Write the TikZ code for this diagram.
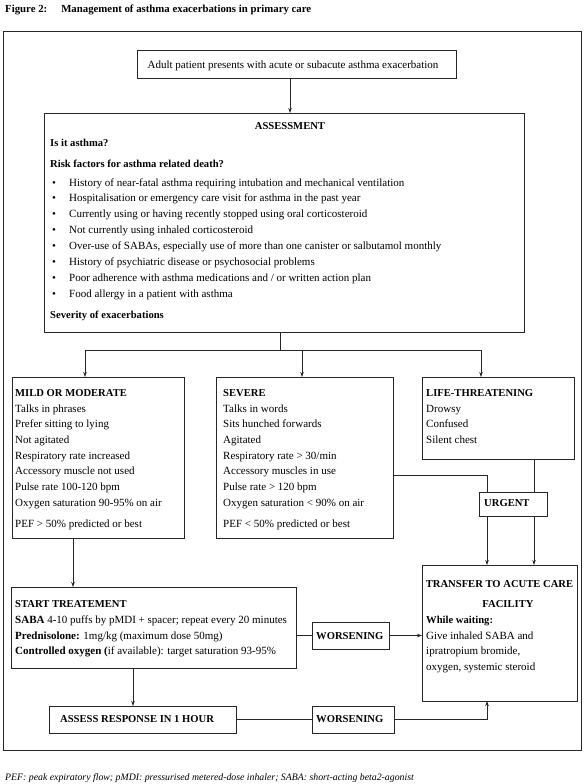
\documentclass[tikz,border=0pt]{standalone}
\usepackage{fontspec}
\setmainfont{Liberation Serif}
\usetikzlibrary{arrows.meta}
\newcommand\fsz{\fontsize{11}{13}\selectfont}
\newcommand\bfsz{\fontsize{10.6}{13}\selectfont\bfseries}
\begin{document}
\begin{tikzpicture}[x=1pt,y=-1pt,
  box/.style={draw=black!85, line width=0.8pt, inner sep=0pt, outer sep=0pt},
  txt/.style={anchor=base west, inner sep=0pt, font=\fsz},
  btxt/.style={anchor=base west, inner sep=0pt, font=\bfsz},
  ctxt/.style={anchor=base, inner sep=0pt, font=\fsz},
  cbtxt/.style={anchor=base, inner sep=0pt, font=\bfsz},
  line/.style={draw=black!85, line width=0.7pt},
  arr/.style={line, -{Stealth[length=5pt,width=3.5pt]}}]
\useasboundingbox (0,0) rectangle (586,784);

% title and footer
\node[anchor=base west, inner sep=0pt, font=\fontsize{10.8}{12}\selectfont\bfseries] (title) at (5,13) {Figure 2:\hspace{14pt}Management of asthma exacerbations in primary care};
\node[anchor=base west, inner sep=0pt, font=\fontsize{9.8}{11}\selectfont\itshape] (foot) at (5,780) {PEF: peak expiratory flow; pMDI: pressurised metered-dose inhaler; SABA: short-acting beta2-agonist};

% boxes
\node[box, minimum width=578pt, minimum height=719pt] (frame) at (292,390.5) {};
\node[box, minimum width=319pt, minimum height=28pt] (top) at (296.5,64) {};
\node[box, minimum width=480pt, minimum height=219pt] (assess) at (284,222.5) {};
\node[box, minimum width=172pt, minimum height=161pt] (mild) at (98,457.5) {};
\node[box, minimum width=177pt, minimum height=161pt] (severe) at (304.5,457.5) {};
\node[box, minimum width=152pt, minimum height=82pt] (life) at (498,418) {};
\node[box, minimum width=68pt, minimum height=24pt] (urgent) at (513,504) {};
\node[box, minimum width=155pt, minimum height=136pt] (transfer) at (499.5,633) {};
\node[box, minimum width=285pt, minimum height=81pt] (start) at (153.5,627.5) {};
\node[box, minimum width=77pt, minimum height=27pt] (worse1) at (350.5,635.5) {};
\node[box, minimum width=187pt, minimum height=27pt] (resp) at (142.5,719.5) {};
\node[box, minimum width=82pt, minimum height=27pt] (worse2) at (353,719.5) {};

% top box text
\node[ctxt] (toptxt) at (293,68) {Adult patient presents with acute or subacute asthma exacerbation};

% assessment text
\node[cbtxt] (ahead) at (290,129) {ASSESSMENT};
\node[btxt] (isit) at (50,146) {Is it asthma?};
\node[btxt] (risk) at (50,167) {Risk factors for asthma related death?};
\foreach \t [count=\i] in {History of near-fatal asthma requiring intubation and mechanical ventilation,
  Hospitalisation or emergency care visit for asthma in the past year,
  Currently using or having recently stopped using oral corticosteroid,
  Not currently using inhaled corticosteroid,
  {Over-use of SABAs, especially use of more than one canister or salbutamol monthly},
  History of psychiatric disease or psychosocial problems,
  Poor adherence with asthma medications and / or written action plan,
  Food allergy in a patient with asthma}{
  \node[ctxt] (bul\i) at (54,170.14+15.86*\i) {\textbullet};
  \node[txt] (rf\i) at (69,170.14+15.86*\i) {\t};
}
\node[btxt] (sev) at (50,318) {Severity of exacerbations};

% mild
\node[btxt] (mhead) at (15,396) {MILD OR MODERATE};
\foreach \t [count=\i] in {Talks in phrases, Prefer sitting to lying, Not agitated, Respiratory rate increased,
  Accessory muscle not used, Pulse rate 100-120 bpm, Oxygen saturation 90-95\% on air}{
  \node[txt] (m\i) at (15,396.3+15.7*\i) {\t};
}
\node[txt] (mpef) at (15,527) {PEF > 50\% predicted or best};

% severe
\node[btxt] (shead) at (223,396) {SEVERE};
\foreach \t [count=\i] in {Talks in words, Sits hunched forwards, Agitated, Respiratory rate > 30/min,
  Accessory muscles in use, Pulse rate > 120 bpm, Oxygen saturation < 90\% on air}{
  \node[txt] (s\i) at (223,396.3+15.7*\i) {\t};
}
\node[txt] (spef) at (223,527) {PEF < 50\% predicted or best};

% life threatening
\node[btxt] (lhead) at (426,396) {LIFE-THREATENING};
\foreach \t [count=\i] in {Drowsy, Confused, Silent chest}{
  \node[txt] (l\i) at (426,396.3+15.7*\i) {\t};
}

% urgent
\node[btxt] (utxt) at (484,506) {URGENT};

% transfer
\node[cbtxt] (t1) at (499.5,587) {TRANSFER TO ACUTE CARE};
\node[cbtxt] (t2) at (508,607) {FACILITY};
\node[btxt] (t3) at (426,623) {While waiting:};
\node[txt] (t4) at (426,639) {Give inhaled SABA and};
\node[txt] (t5) at (426,654.5) {ipratropium bromide,};
\node[txt] (t6) at (426,670) {oxygen, systemic steroid};

% start treatment
\node[btxt] (st1) at (15,607) {START TREATEMENT};
\node[txt] (st2) at (15,623) {\textbf{SABA} 4-10 puffs by pMDI + spacer; repeat every 20 minutes};
\node[txt] (st3) at (15,639) {\textbf{Prednisolone:} 1mg/kg (maximum dose 50mg)};
\node[txt] (st4) at (15,654.5) {\textbf{Controlled oxygen (}if available): target saturation 93-95\%};

% worsening, assess response
\node[btxt] (w1txt) at (316,639) {WORSENING};
\node[btxt] (w2txt) at (316,722.5) {WORSENING};
\node[btxt] (rtxt) at (60,722.5) {ASSESS RESPONSE IN 1 HOUR};

% connector coordinates
\coordinate (xa) at (290,0);
\coordinate (xj) at (280,350);
\coordinate (xm) at (85,0);
\coordinate (xs) at (302,0);
\coordinate (xl) at (481,0);
\coordinate (xmd) at (73,0);
\coordinate (xr) at (133,0);
\coordinate (u1) at (487,0);
\coordinate (u2) at (534,0);
\coordinate (hy) at (0,475);

% connectors
\draw[arr] (top.south -| xa) -- (assess.north -| xa);
\draw[line] (assess.south -| xj) -- (xj);
\draw[arr] (xj) -| (mild.north -| xm);
\draw[arr] (xj) -| (severe.north -| xs);
\draw[arr] (xj) -| (life.north -| xl);
\draw[arr] (mild.south -| xmd) -- (start.north -| xmd);
\draw[line] (severe.east |- hy) -| (urgent.north -| u1);
\draw[line] (life.south -| u2) -- (urgent.north -| u2);
\draw[arr] (urgent.south -| u1) -- (transfer.north -| u1);
\draw[arr] (urgent.south -| u2) -- (transfer.north -| u2);
\draw[line] (worse1.west -| start.east) -- (worse1.west);
\draw[arr] (worse1.east) -- (worse1.east -| transfer.west);
\draw[arr] (start.south -| xr) -- (resp.north -| xr);
\draw[line] (resp.east) -- (worse2.west);
\draw[arr] (worse2.east) -| (transfer.south -| u1);
\end{tikzpicture}
\end{document}
